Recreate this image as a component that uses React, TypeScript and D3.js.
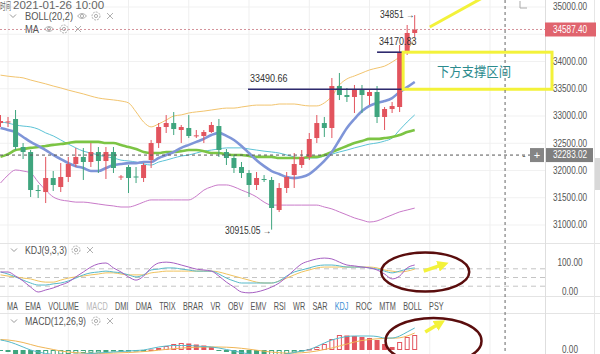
import React from 'react';
import * as d3 from 'd3';

// ---------- DATA ----------
const opens = [32871,32890,32945,32431,32339,31642,31605,31862,31697,31881,32119,32248,32156,32339,32174,32339,31881,32064,31890,31862,32192,32504,32798,32871,32743,32780,32633,32633,32706,32816,32339,32229,32064,31954,31734,31844,31826,31275,31679,31917,32101,32248,32596,32871,32780,33550,33385,33349,33495,33367,33440,32982,33128,33165,34174,34523];
const highs = [33018,32982,33110,32504,32376,31734,32248,31991,32137,32248,32413,32413,32504,32431,32431,32431,31917,32101,32064,32137,32560,32871,33018,33073,32835,33018,32743,32743,32890,32945,32394,32284,32156,32009,31972,31917,31881,31770,31972,32321,32376,32688,33018,32982,33697,33789,33514,33569,33569,33477,33550,33165,33257,34303,34670,34851];
const lows = [32798,32798,32376,32211,31514,31495,31403,31624,31605,31789,32064,31826,32064,31954,31844,31954,31826,31587,31770,31789,32046,32413,32688,32651,32504,32596,32596,32504,32688,32248,32101,31954,31862,31514,31642,31789,30915.05,31238,31587,31679,32046,32192,32504,32615,32596,33293,33257,33055,33055,33202,32871,32743,33055,33073,34119,34450];
const closes = [32908,32900,32431,32339,31642,31630,31862,31734,31881,32119,32248,32156,32339,32174,32339,32046,31890,31862,31881,32101,32504,32798,32871,32761,32798,32633,32645,32706,32835,32376,32229,32046,31954,31734,31862,31830,31312,31679,31881,32119,32248,32578,32871,32780,33550,33385,33349,33495,33385,33440,32982,33128,33183,34170.83,34523,34587.4];

const bollUpper = [33750,33730,33715,33700,33660,33625,33590,33550,33515,33475,33440,33405,33365,33330,33310,33295,33275,33240,33075,32890,32800,32855,32925,33000,33020,33055,33075,33090,33110,33130,33145,33145,33165,33185,33200,33200,33200,33220,33220,33220,33200,33185,33185,33240,33365,33570,33680,33735,33790,33845,33880,33915,33990,34085,34210,34430];
const bollLower = [31770,31915,32010,31990,31955,31790,31640,31515,31460,31440,31420,31420,31405,31385,31365,31350,31330,31330,31365,31420,31460,31460,31460,31460,31460,31460,31530,31640,31700,31735,31735,31700,31640,31585,31515,31420,31365,31365,31365,31365,31365,31365,31365,31330,31295,31240,31185,31130,31090,31055,31075,31130,31185,31240,31275,31310];
const maBlue = [32780,32745,32705,32615,32525,32450,32375,32285,32210,32135,32080,32045,31990,31990,32045,32100,32120,32135,32135,32155,32155,32230,32285,32340,32415,32470,32525,32580,32650,32690,32635,32560,32450,32320,32190,32080,31990,31935,31880,31860,31880,31935,32045,32175,32340,32560,32780,32945,33090,33185,33240,33275,33330,33440,33530,33625];
const maGreen = [32250,32300,32375,32395,32415,32430,32450,32470,32485,32505,32525,32525,32525,32525,32505,32505,32470,32430,32395,32340,32320,32320,32340,32340,32355,32375,32375,32355,32320,32320,32300,32285,32285,32265,32250,32250,32250,32230,32230,32230,32230,32250,32250,32285,32340,32395,32450,32505,32540,32580,32580,32595,32615,32650,32705,32745];
const maTeal = [32890,32870,32835,32815,32800,32760,32690,32635,32560,32485,32415,32355,32320,32285,32250,32230,32190,32175,32155,32120,32100,32155,32190,32230,32265,32285,32320,32355,32375,32395,32415,32415,32415,32395,32375,32355,32340,32320,32285,32250,32230,32230,32230,32265,32300,32340,32375,32415,32450,32485,32505,32540,32595,32745,32890,33020];

const kdjK = [69,62,52,41,31,24,24,28,31,38,48,59,66,69,72,69,66,59,52,59,76,79,83,83,79,76,72,72,72,62,48,38,31,31,31,31,31,38,55,69,76,83,90,93,93,90,86,86,86,83,79,72,66,72,79,83];
const kdjD = [59,55,52,48,45,38,34,34,41,48,52,55,59,62,66,66,62,59,59,59,66,69,72,72,72,72,72,72,72,69,62,55,48,41,34,31,31,38,48,59,69,76,83,86,86,86,86,86,86,86,83,76,72,69,72,79];
const kdjJ = [69,69,55,38,17,0,7,14,24,34,52,69,86,97,100,83,69,52,41,55,83,100,103,100,93,86,79,76,72,55,34,17,0,-3,0,7,17,31,52,76,97,107,114,117,114,103,93,90,86,83,76,62,45,55,83,93];

const macdHist = [-10,-20,-40,-50,-60,-60,-55,-50,-45,-40,-35,-30,-28,-25,-20,-15,-10,-8,-5,-3,5,20,40,60,70,65,55,45,30,-5,-20,-40,-60,-70,-80,-85,-70,-55,-40,-25,-5,10,30,60,110,150,145,140,130,120,100,60,30,80,130,150];
const macdDif = [100,85,60,30,0,-20,-35,-45,-50,-50,-45,-40,-35,-30,-25,-20,-15,-10,-5,0,15,30,40,45,45,45,40,35,30,20,5,-10,-25,-40,-50,-55,-55,-50,-40,-25,-10,5,35,70,100,120,135,140,140,140,135,120,120,140,180,220];
const macdDea = [105,100,90,75,55,35,20,5,-10,-20,-27,-32,-34,-34,-33,-31,-28,-25,-21,-16,-10,-2,6,13,19,24,28,30,31,30,28,24,17,8,-2,-12,-21,-27,-31,-31,-28,-21,-10,5,20,40,60,80,95,105,112,116,118,122,140,170];

const priceTicks = [35000, 34000, 33500, 33000, 32500, 32000, 31500, 31000];
const gridPrices = [35000, 34500, 34000, 33500, 33000, 32500, 32000, 31500, 31000];
const gridIdx = [1, 9, 17, 25, 33, 41, 49, 57, 65];
const kdjLevels = [80, 50, 20];
const kdjTicks = [100, 0];
const tabs = ['MA','EMA','VOLUME','MACD','DMI','DMA','TRIX','BRAR','VR','OBV','EMV','RSI','WR','SAR','KDJ','ROC','MTM','BOLL','PSY'];
const lastPrice = 34587.40;
const crossPrice = 32283.02;
const crossIdx = 67.0;
const supportLow = 33490.66;
const supportHigh = 34170.83;
const maxHigh = 34851;
const minLow = 30915.05;
const headerDate = '2021-01-26 10:00';

// ---------- LAYOUT ----------
const FONT = '"Liberation Sans", Arial, sans-serif';
const CJK = '"Noto Sans CJK SC", sans-serif';
const AXIS_X = 545;
const LABEL_CX = 570;
const RED = '#e2545e';
const GREEN = '#3fa57e';

const xScale = d3.scaleLinear().domain([0, 55]).range([0.5, 414.7]);
const yPrice = d3.scaleLinear().domain([31000, 35000]).range([225, 7]);
const yKdj = d3.scaleLinear().domain([0, 100]).range([292, 263]);
const yMacd = d3.scaleLinear().domain([0, 100]).range([350, 340]);

const priceLine = d3.line<number>().x((_, i) => xScale(i)).y((v) => yPrice(v)).curve(d3.curveMonotoneX);
const kdjLine = d3.line<number>().x((_, i) => xScale(i)).y((v) => yKdj(v)).curve(d3.curveMonotoneX);
const macdLine = d3.line<number>().x((_, i) => xScale(i)).y((v) => yMacd(v)).curve(d3.curveMonotoneX);

const fmt = d3.format('.2f');

const charW: Record<string, number> = { A: 667, B: 667, C: 722, D: 722, E: 667, I: 278, J: 500, K: 667, L: 556, M: 833, O: 778, P: 667, R: 722, S: 667, T: 611, U: 722, V: 667, W: 944, X: 667, Y: 667 };

function Txt({ x, y, s = 10, sx = 1, fill = '#333', anchor = 'start', family = FONT, children }: any) {
  return (
    <text transform={`translate(${x},${y}) scale(${sx},1)`} fontSize={s} fill={fill} textAnchor={anchor}
      dominantBaseline="central" fontFamily={family}>{children}</text>
  );
}
function Eye({ x, y }: any) {
  return (
    <g stroke="#b0b0b0" fill="none" strokeWidth={1}>
      <path d={`M${x - 4.5},${y} Q${x},${y - 5} ${x + 4.5},${y} Q${x},${y + 5} ${x - 4.5},${y}Z`} />
      <circle cx={x} cy={y} r={1.6} />
    </g>
  );
}
function Gear({ x, y }: any) {
  return (
    <g stroke="#b0b0b0" fill="none" strokeWidth={1}>
      <circle cx={x} cy={y} r={4} strokeDasharray="2,1" />
      <circle cx={x} cy={y} r={1.6} />
    </g>
  );
}
function Close({ x, y }: any) {
  return (
    <g stroke="#b0b0b0" strokeWidth={1}>
      <line x1={x - 3} y1={y - 3} x2={x + 3} y2={y + 3} />
      <line x1={x - 3} y1={y + 3} x2={x + 3} y2={y - 3} />
    </g>
  );
}
function Chev({ x, y }: any) {
  return <polyline points={`${x - 3},${y - 1.5} ${x},${y + 1.5} ${x + 3},${y - 1.5}`} fill="none" stroke="#999" strokeWidth={1} />;
}

export default function App() {
  const n = closes.length;
  const TAB_SX = 0.68;
  const TAB_FS = 10.7;
  let cx = 7;
  const tabPos = tabs.map((t) => {
    const w = (t.split('').reduce((a, c) => a + (charW[c] || 650), 0) / 1000) * TAB_FS * TAB_SX;
    const p = { t, x: cx, w };
    cx += w + 7.3;
    return p;
  });

  const yLow = yPrice(supportLow);
  const yHigh = yPrice(supportHigh);
  const rectL = xScale(53) + 3.5;
  const rectR = 552;
  const crossX = xScale(crossIdx);
  const crossY = yPrice(crossPrice);
  const lastY = yPrice(lastPrice);

  return (
    <div style={{ position: 'fixed', left: 0, top: 0, width: 600, height: 354, background: '#fff' }}>
      <svg width={600} height={354} style={{ display: 'block' }}>
        <defs>
          <clipPath id="mainClip"><rect x={0} y={0} width={AXIS_X} height={243} /></clipPath>
          <marker id="yarrow" viewBox="0 0 10 10" refX={5} refY={5} markerWidth={3.2} markerHeight={3.2} orient="auto">
            <path d="M0,0 L10,5 L0,10 z" fill="#f3f23a" />
          </marker>
        </defs>
        <rect x={0} y={0} width={600} height={354} fill="#fff" />

        {/* grid */}
        {gridPrices.map((p) => (
          <line key={p} x1={0} x2={AXIS_X} y1={yPrice(p)} y2={yPrice(p)} stroke="#f1f1f1" />
        ))}
        {gridIdx.map((g) => (
          <line key={g} x1={xScale(g)} x2={xScale(g)} y1={0} y2={354} stroke="#efefef" />
        ))}

        {/* separators */}
        <line x1={0} x2={600} y1={243.5} y2={243.5} stroke="#e4e4e4" />
        <line x1={0} x2={600} y1={296.5} y2={296.5} stroke="#e4e4e4" />
        <line x1={0} x2={600} y1={313.5} y2={313.5} stroke="#e4e4e4" />
        <line x1={AXIS_X + 0.5} x2={AXIS_X + 0.5} y1={0} y2={354} stroke="#dedede" />
        <line x1={594.5} x2={594.5} y1={0} y2={354} stroke="#e6e6e6" />
        <rect x={595} y={158} width={5} height={32} fill="#d8d8d8" />

        {/* header */}
        <Txt x={0} y={5.5} s={10} sx={0.55} family={CJK} fill="#666">时间</Txt>
        <Txt x={13} y={5.5} s={11} sx={1.05} fill="#666">{headerDate}</Txt>
        <Chev x={13} y={16} />
        <Txt x={25} y={16} s={10} sx={0.93} fill="#555">BOLL(20,2)</Txt>
        <Eye x={82} y={16} /><Gear x={96} y={16} /><Close x={110} y={16} />
        <Txt x={25} y={29} s={10} sx={0.93} fill="#555">MA</Txt>
        <Eye x={49} y={29} /><Gear x={64} y={29} /><Close x={78} y={29} />

        {/* main chart */}
        <g clipPath="url(#mainClip)">
          <path d={priceLine(bollUpper) || ''} fill="none" stroke="#f2c46e" strokeWidth={1} />
          <path d={priceLine(bollLower) || ''} fill="none" stroke="#c97ac9" strokeWidth={1} />
          <path d={priceLine(maTeal) || ''} fill="none" stroke="#5cc3d6" strokeWidth={1} />
          <path d={priceLine(maGreen) || ''} fill="none" stroke="#7cc444" strokeWidth={2.6} />
          <path d={priceLine(maBlue) || ''} fill="none" stroke="#7f95d8" strokeWidth={2.6} />

          {d3.range(n).map((i) => {
            const up = closes[i] >= opens[i];
            const c = up ? RED : GREEN;
            const x = xScale(i);
            const top = yPrice(Math.max(opens[i], closes[i]));
            const bot = yPrice(Math.min(opens[i], closes[i]));
            return (
              <g key={i}>
                <line x1={x} x2={x} y1={yPrice(highs[i])} y2={yPrice(lows[i])} stroke={c} strokeWidth={1} />
                <rect x={x - 2.5} y={top} width={5} height={Math.max(1, bot - top)} fill={c} />
              </g>
            );
          })}

          <line x1={0} x2={AXIS_X} y1={lastY} y2={lastY} stroke="#d4939b" strokeDasharray="2,2" />
          <line x1={0} x2={AXIS_X} y1={crossY} y2={crossY} stroke="#555" strokeDasharray="3,3" />

          <line x1={xScale(33) - 1} x2={rectL} y1={yLow} y2={yLow} stroke="#2e2a6e" strokeWidth={1.6} />
          <line x1={xScale(50)} x2={rectL} y1={yHigh} y2={yHigh} stroke="#2e2a6e" strokeWidth={1.6} />
          <Txt x={250} y={yLow - 11} s={10} sx={0.9} fill="#333">{fmt(supportLow)}</Txt>
          <Txt x={379} y={yHigh - 11} s={10} sx={0.9} fill="#333">{fmt(supportHigh)}</Txt>
          <Txt x={380} y={yPrice(maxHigh)} s={10} sx={0.85} fill="#333">{String(maxHigh)} →</Txt>
          <Txt x={225} y={yPrice(minLow) + 1} s={10} sx={0.85} fill="#333">{fmt(minLow)} →</Txt>
          <line x1={xScale(57)} y1={yPrice(34633)} x2={xScale(64.2)} y2={yPrice(35183)} stroke="#f3f23a" strokeWidth={3} />
        </g>
        <rect x={rectL} y={yHigh} width={rectR - rectL} height={yLow - yHigh} fill="none" stroke="#f3f23a" strokeWidth={3} />
        <Txt x={474} y={(yLow + yHigh) / 2} s={13} sx={0.95} anchor="middle" family={CJK} fill="#2b8b8e">下方支撑区间</Txt>

        <line x1={crossX} x2={crossX} y1={0} y2={354} stroke="#666" strokeDasharray="3,3" />

        {priceTicks.map((p) => (
          <Txt key={p} x={LABEL_CX} y={yPrice(p)} s={10} sx={0.82} anchor="middle" fill="#555">{fmt(p)}</Txt>
        ))}
        <rect x={545} y={lastY - 7} width={51} height={14} fill="#e0646e" />
        <Txt x={LABEL_CX} y={lastY} s={10} sx={0.82} anchor="middle" fill="#fff">{fmt(lastPrice)}</Txt>
        <Txt x={524} y={crossY} s={10} anchor="middle" fill="#666">-</Txt>
        <rect x={530} y={crossY - 7} width={14} height={14} fill="#858585" />
        <Txt x={537} y={crossY} s={11} anchor="middle" fill="#fff">+</Txt>
        <rect x={546} y={crossY - 7} width={47} height={14} fill="#7f7f7f" />
        <Txt x={LABEL_CX} y={crossY} s={10} sx={0.82} anchor="middle" fill="#fff">{fmt(crossPrice)}</Txt>
        <path d="M520,1 L520,8 L527,8" fill="none" stroke="#aaa" />

        {/* KDJ panel */}
        <Chev x={14} y={250} />
        <Txt x={25} y={250} s={10} sx={0.88} fill="#555">KDJ(9,3,3)</Txt>
        <Gear x={76} y={250} /><Close x={90} y={250} />
        {kdjLevels.map((l) => (
          <line key={l} x1={0} x2={AXIS_X} y1={yKdj(l)} y2={yKdj(l)} stroke="#c4c4c4" strokeDasharray="5,4" />
        ))}
        {kdjTicks.map((t) => (
          <Txt key={t} x={LABEL_CX} y={yKdj(t)} s={10} sx={0.82} anchor="middle" fill="#555">{fmt(t)}</Txt>
        ))}
        <path d={kdjLine(kdjD) || ''} fill="none" stroke="#f0c35e" strokeWidth={1} />
        <path d={kdjLine(kdjK) || ''} fill="none" stroke="#56b9c9" strokeWidth={1} />
        <path d={kdjLine(kdjJ) || ''} fill="none" stroke="#a65fc2" strokeWidth={1} />
        <ellipse cx={xScale(56.4)} cy={yKdj(69)} rx={44} ry={19.5} fill="none" stroke="#5a0d0d" strokeWidth={2.5} />
        <line x1={xScale(56.2)} y1={yKdj(72)} x2={xScale(58.8)} y2={yKdj(95)} stroke="#f3f23a" strokeWidth={3.5} markerEnd="url(#yarrow)" />

        {/* tabs */}
        {tabPos.map((p) => (
          <Txt key={p.t} x={p.x} y={306} s={TAB_FS} sx={TAB_SX}
            fill={p.t === 'MACD' ? '#b8b8b8' : p.t === 'KDJ' ? '#3d8fd4' : '#555'}>{p.t}</Txt>
        ))}

        {/* MACD panel */}
        <Chev x={14} y={321} />
        <Txt x={25} y={321} s={10} sx={0.88} fill="#555">MACD(12,26,9)</Txt>
        <Gear x={96} y={321} /><Close x={110} y={321} />
        <Txt x={LABEL_CX} y={yMacd(0)} s={10} sx={0.82} anchor="middle" fill="#555">{fmt(0)}</Txt>
        {macdHist.map((v, i) => {
          const prev = i > 0 ? macdHist[i - 1] : v;
          const pos = v >= 0;
          const c = pos ? RED : GREEN;
          const hollow = pos ? v >= prev : v > prev;
          const y0 = yMacd(0);
          const y1 = yMacd(v);
          const top = Math.min(y0, y1);
          const h = Math.max(1, Math.abs(y1 - y0));
          const x = xScale(i);
          return hollow ? (
            <rect key={i} x={x - 2} y={top + 0.5} width={4} height={Math.max(0.5, h - 1)} fill="#fff" stroke={c} strokeWidth={1} />
          ) : (
            <rect key={i} x={x - 2.5} y={top} width={5} height={h} fill={c} />
          );
        })}
        <path d={macdLine(macdDea) || ''} fill="none" stroke="#f0b656" strokeWidth={1} />
        <path d={macdLine(macdDif) || ''} fill="none" stroke="#56b9c9" strokeWidth={1} />
        <ellipse cx={xScale(57.5)} cy={341} rx={48} ry={23} fill="none" stroke="#5a0d0d" strokeWidth={2.5} />
        <line x1={xScale(56.4)} y1={yMacd(180)} x2={xScale(58.4)} y2={yMacd(270)} stroke="#f3f23a" strokeWidth={3.5} markerEnd="url(#yarrow)" />
      </svg>
    </div>
  );
}
